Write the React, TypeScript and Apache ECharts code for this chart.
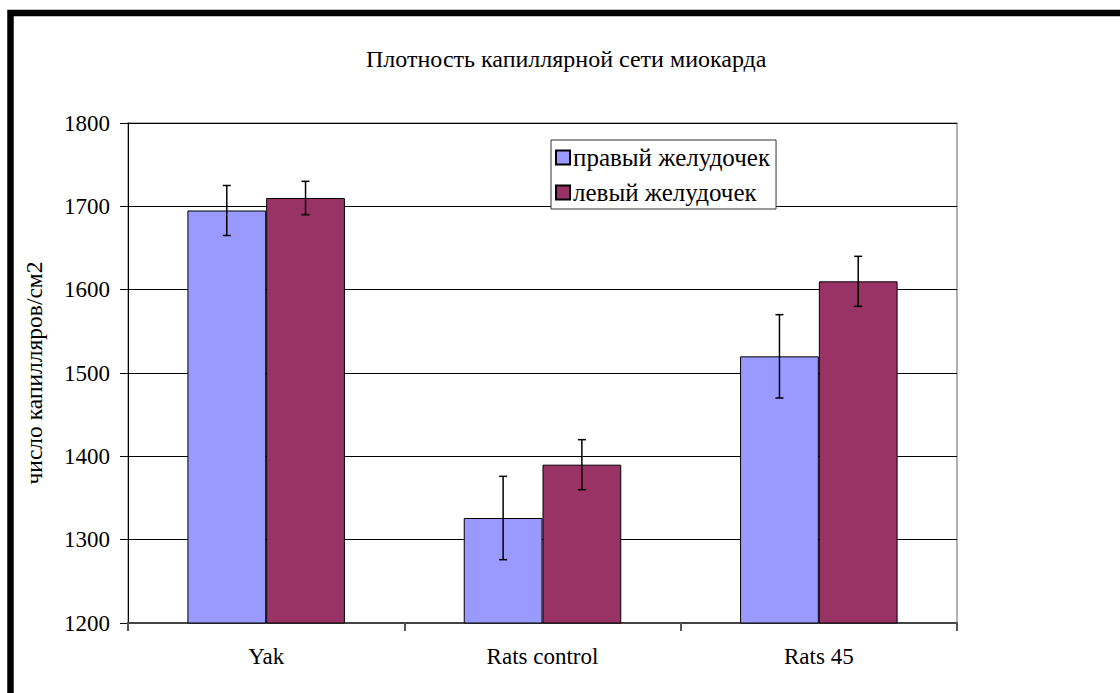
import React, { useEffect, useRef } from "react";
import * as echarts from "echarts";

const categories = ["Yak", "Rats control", "Rats 45"];
const rightVentricle = [1695, 1326, 1520];
const rightErr = [30, 50, 50];
const leftVentricle = [1710, 1390, 1610];
const leftErr = [20, 30, 30];
const seriesNames = ["правый желудочек", "левый желудочек"];
const titleText = "Плотность капиллярной сети миокарда";
const yName = "число капилляров/см2";

const FONT = "Liberation Serif";
const GAP = 0.43;

function errSeries(values: number[], errs: number[], side: number) {
  return {
    type: "custom",
    silent: true,
    z: 10,
    data: values.map((v, i) => [i, v, errs[i]]),
    renderItem: (params: any, api: any) => {
      const idx = api.value(0);
      const v = api.value(1);
      const e = api.value(2);
      const band = api.size([1, 0])[0];
      const bw = (band * (1 - GAP)) / 2;
      const c = api.coord([idx, v]);
      const x = c[0] + side * bw / 2;
      const top = api.coord([idx, v + e])[1];
      const bot = api.coord([idx, v - e])[1];
      const cap = 4;
      const style = { stroke: "#000", lineWidth: 1.5 };
      return {
        type: "group",
        children: [
          { type: "line", shape: { x1: x, y1: top, x2: x, y2: bot }, style },
          { type: "line", shape: { x1: x - cap, y1: top, x2: x + cap, y2: top }, style },
          { type: "line", shape: { x1: x - cap, y1: bot, x2: x + cap, y2: bot }, style },
        ],
      };
    },
  };
}

export default function App() {
  const ref = useRef<HTMLDivElement>(null);
  useEffect(() => {
    if (!ref.current) return;
    const chart = echarts.init(ref.current, undefined, { renderer: "svg" });
    chart.setOption({
      animation: false,
      backgroundColor: "#fff",
      textStyle: { fontFamily: FONT },
      title: {
        text: titleText,
        left: 361,
        top: 42,
        textStyle: { fontFamily: FONT, fontSize: 24, fontWeight: "normal", color: "#000" },
      },
      graphic: [
        {
          type: "rect",
          shape: { x: 10.5, y: 13, width: 1200, height: 1000 },
          style: { fill: "none", stroke: "#000", lineWidth: 6.5 },
          silent: true,
        },
      ],
      legend: {
        orient: "vertical",
        left: 551,
        top: 140,
        data: seriesNames,
        backgroundColor: "#fff",
        borderColor: "#333",
        borderWidth: 1,
        padding: [5, 6, 4, 4],
        itemGap: 10,
        itemWidth: 14,
        itemHeight: 14,
        icon: "rect",
        textStyle: { fontFamily: FONT, fontSize: 25, color: "#000", lineHeight: 22, padding: [0, 0, 0, -2] },
      },
      grid: {
        left: 128,
        right: 163,
        top: 123,
        bottom: 70,
        show: true,
        borderColor: "#999",
        borderWidth: 1.5,
        backgroundColor: "#fff",
      },
      xAxis: {
        type: "category",
        data: categories,
        axisLine: { lineStyle: { color: "#444", width: 2 } },
        axisTick: { show: true, length: 8, lineStyle: { color: "#555", width: 2 } },
        axisLabel: { fontFamily: FONT, fontSize: 23, color: "#000", margin: 22 },
      },
      yAxis: {
        type: "value",
        min: 1200,
        max: 1800,
        interval: 100,
        name: yName,
        nameLocation: "middle",
        nameGap: 82,
        nameTextStyle: { fontFamily: FONT, fontSize: 23.5, color: "#000" },
        axisLine: { show: true, lineStyle: { color: "#000", width: 1 } },
        axisTick: { show: true, length: 8, lineStyle: { color: "#000" } },
        axisLabel: {
          fontFamily: FONT,
          fontSize: 23,
          color: "#000",
          margin: 18,
          formatter: (v: number) => String(v),
        },
        splitLine: { show: true, lineStyle: { color: "#000", width: 1 } },
      },
      series: [
        {
          name: seriesNames[0],
          type: "bar",
          data: rightVentricle,
          barGap: "0%",
          barCategoryGap: GAP * 100 + "%",
          itemStyle: { color: "#9999FF", borderColor: "#000", borderWidth: 1 },
        },
        {
          name: seriesNames[1],
          type: "bar",
          data: leftVentricle,
          barGap: "0%",
          barCategoryGap: GAP * 100 + "%",
          itemStyle: { color: "#993366", borderColor: "#000", borderWidth: 1 },
        },
        errSeries(rightVentricle, rightErr, -1),
        errSeries(leftVentricle, leftErr, 1),
      ],
    });
    return () => chart.dispose();
  }, []);
  return (
    <div
      ref={ref}
      style={{ position: "absolute", left: 0, top: 0, width: 1120, height: 693 }}
    />
  );
}
